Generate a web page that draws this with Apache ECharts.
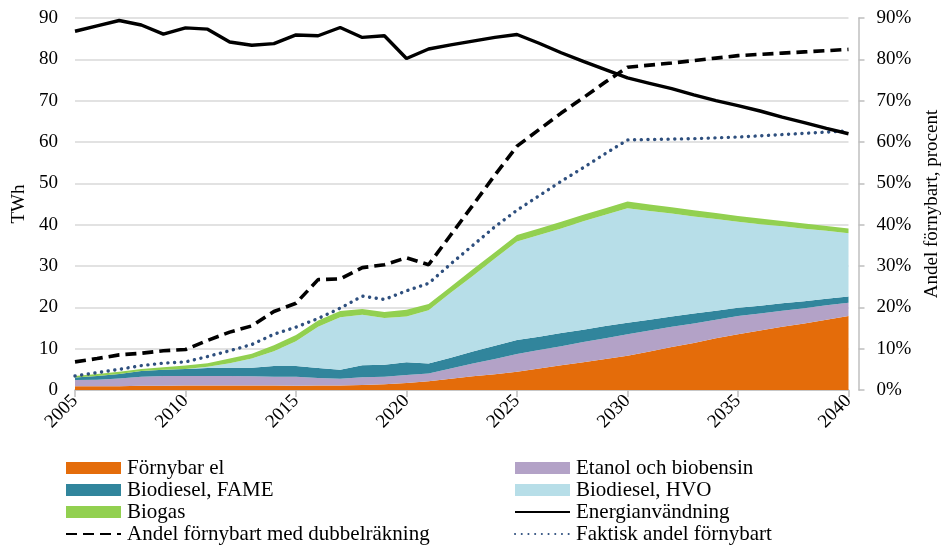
<!DOCTYPE html>
<html><head><meta charset="utf-8">
<script src="https://cdn.jsdelivr.net/npm/echarts@6/dist/echarts.min.js"></script>
<style>html,body{margin:0;padding:0;background:#fff}#c{width:941px;height:549px}</style>
</head><body><div id="c"></div>
<script>
const years = ['2005','2006','2007','2008','2009','2010','2011','2012','2013','2014','2015','2016','2017','2018','2019','2020','2021','2022','2023','2024','2025','2026','2027','2028','2029','2030','2031','2032','2033','2034','2035','2036','2037','2038','2039','2040'];
// TWh, stacked components
const fornybarEl = [0.9,0.9,0.9,1.0,1.0,1.1,1.1,1.1,1.1,1.1,1.0,1.1,1.1,1.2,1.4,1.7,2.1,2.7,3.3,3.8,4.4,5.2,6.0,6.7,7.5,8.3,9.3,10.4,11.4,12.5,13.5,14.4,15.3,16.1,17.0,17.9];
const etanol     = [1.5,1.6,1.9,2.2,2.4,2.3,2.3,2.3,2.2,2.1,2.2,1.8,1.6,1.9,1.8,1.9,1.9,2.5,3.1,3.7,4.3,4.5,4.6,4.9,5.0,5.2,5.1,4.9,4.7,4.5,4.4,4.1,3.9,3.7,3.5,3.2];
const fame       = [0.6,0.9,1.1,1.4,1.5,1.7,1.9,2.0,2.1,2.6,2.6,2.4,2.2,2.9,2.9,3.1,2.4,2.6,2.9,3.2,3.4,3.2,3.2,3.0,3.0,2.8,2.6,2.5,2.4,2.2,2.0,1.9,1.8,1.7,1.6,1.5];
const hvo        = [0.0,0.0,0.0,0.0,0.0,0.0,0.3,1.1,2.2,3.6,6.0,10.0,12.7,12.2,11.3,11.1,12.9,15.7,18.3,21.1,23.8,24.6,25.3,26.2,26.9,27.7,26.3,24.9,23.5,22.2,20.8,19.7,18.6,17.5,16.4,15.3];
const biogas     = [0.4,0.5,0.5,0.5,0.6,0.8,0.9,1.1,1.2,1.4,1.5,1.5,1.5,1.4,1.5,1.6,1.5,1.5,1.6,1.5,1.6,1.6,1.6,1.6,1.6,1.6,1.6,1.5,1.5,1.4,1.4,1.4,1.3,1.3,1.2,1.2];
// TWh line
const energi     = [86.8,88.1,89.4,88.3,86.1,87.6,87.3,84.2,83.4,83.8,85.9,85.7,87.7,85.3,85.7,80.2,82.5,83.5,84.4,85.3,86.0,83.9,81.6,79.5,77.5,75.5,74.2,72.9,71.4,70.0,68.8,67.5,66.0,64.7,63.3,62.0];
// percent lines
const andelDubbel = [6.8,7.6,8.5,8.9,9.5,9.8,12.0,14.0,15.5,19.0,21.0,26.7,26.9,29.6,30.3,32.0,30.3,37.5,44.7,52.0,59.0,63.0,67.0,70.7,74.5,78.1,78.6,79.1,79.7,80.3,80.9,81.2,81.5,81.8,82.1,82.4];
const faktisk     = [3.4,4.2,5.0,5.9,6.5,6.8,8.1,9.5,11.0,13.5,15.2,17.3,19.8,22.7,21.9,24.0,25.8,30.5,35.0,39.5,43.5,47.0,50.5,53.8,57.2,60.5,60.6,60.7,60.8,61.0,61.2,61.5,61.8,62.1,62.4,62.7];

const FONT = 'Liberation Serif';
const areaSeries = (name, data, color) => ({
  name, type:'line', stack:'tot', data, symbol:'none', showSymbol:false,
  lineStyle:{width:0}, areaStyle:{color, opacity:1}, itemStyle:{color}, z:1
});
const lineLegend = name => ({name, itemStyle:{opacity:0}});
const legendText = {fontFamily:FONT, fontSize:21, lineHeight:22, color:'#000', padding:[0,0,0,1]};

const chart = echarts.init(document.getElementById('c'));
chart.setOption({
  animation:false,
  textStyle:{fontFamily:FONT},
  grid:{left:75, right:92.5, top:18, bottom:159, containLabel:false, outerBoundsMode:'none'},
  xAxis:{
    type:'category', data:years, boundaryGap:false,
    axisLine:{show:true, lineStyle:{color:'#BFBFBF', width:1.5}},
    axisTick:{show:true, length:7, interval:4, lineStyle:{color:'#BFBFBF', width:1.5}},
    axisLabel:{interval:4, rotate:45, margin:8, color:'#000', fontFamily:FONT, fontSize:19},
    splitLine:{show:false}
  },
  yAxis:[
    {type:'value', min:0, max:90, interval:10, position:'left',
     name:'TWh', nameLocation:'middle', nameGap:44, nameRotate:90,
     nameTextStyle:{fontFamily:FONT, fontSize:19, color:'#000'},
     axisLine:{show:false}, axisTick:{show:false},
     axisLabel:{color:'#000', fontFamily:FONT, fontSize:19, margin:17},
     splitLine:{show:true, lineStyle:{color:'#D9D9D9', width:1.5}}},
    {type:'value', min:0, max:90, interval:10, position:'right', offset:10,
     name:'Andel förnybart, procent', nameLocation:'middle', nameGap:63, nameRotate:90,
     nameTextStyle:{fontFamily:FONT, fontSize:19, color:'#000'},
     axisLine:{show:true, lineStyle:{color:'#BFBFBF', width:1.5}},
     axisTick:{show:true, inside:false, length:6, lineStyle:{color:'#BFBFBF', width:1.5}},
     axisLabel:{color:'#000', fontFamily:FONT, fontSize:19, margin:18, formatter:'{value}%'},
     splitLine:{show:false}}
  ],
  legend:[
    {orient:'vertical', left:65, top:457, padding:0, itemWidth:55, itemHeight:12, itemGap:0,
     textStyle:legendText,
     data:[{name:'Förnybar el', icon:'rect'},{name:'Biodiesel, FAME', icon:'rect'},{name:'Biogas', icon:'rect'},lineLegend('Andel förnybart med dubbelräkning')]},
    {orient:'vertical', left:514, top:457, padding:0, itemWidth:55, itemHeight:12, itemGap:0,
     textStyle:legendText,
     data:[{name:'Etanol och biobensin', icon:'rect'},{name:'Biodiesel, HVO', icon:'rect'},lineLegend('Energianvändning'),lineLegend('Faktisk andel förnybart')]}
  ],
  series:[
    areaSeries('Förnybar el', fornybarEl, '#E46C0A'),
    areaSeries('Etanol och biobensin', etanol, '#B3A2C7'),
    areaSeries('Biodiesel, FAME', fame, '#31859C'),
    areaSeries('Biodiesel, HVO', hvo, '#B7DEE8'),
    areaSeries('Biogas', biogas, '#92D050'),
    {name:'Energianvändning', type:'line', data:energi, symbol:'none', z:5,
     itemStyle:{color:'#000'}, lineStyle:{color:'#000', width:3.4}},
    {name:'Andel förnybart med dubbelräkning', type:'line', yAxisIndex:1, data:andelDubbel, symbol:'none', z:4,
     itemStyle:{color:'#000'}, lineStyle:{color:'#000', width:3.6, type:[11,6]}},
    {name:'Faktisk andel förnybart', type:'line', yAxisIndex:1, data:faktisk, symbol:'none', z:4,
     itemStyle:{color:'#2E4F7E'}, lineStyle:{color:'#2E4F7E', width:3.4, type:[0.1,6.6], cap:'round'}}
  ]
});
</script></body></html>
